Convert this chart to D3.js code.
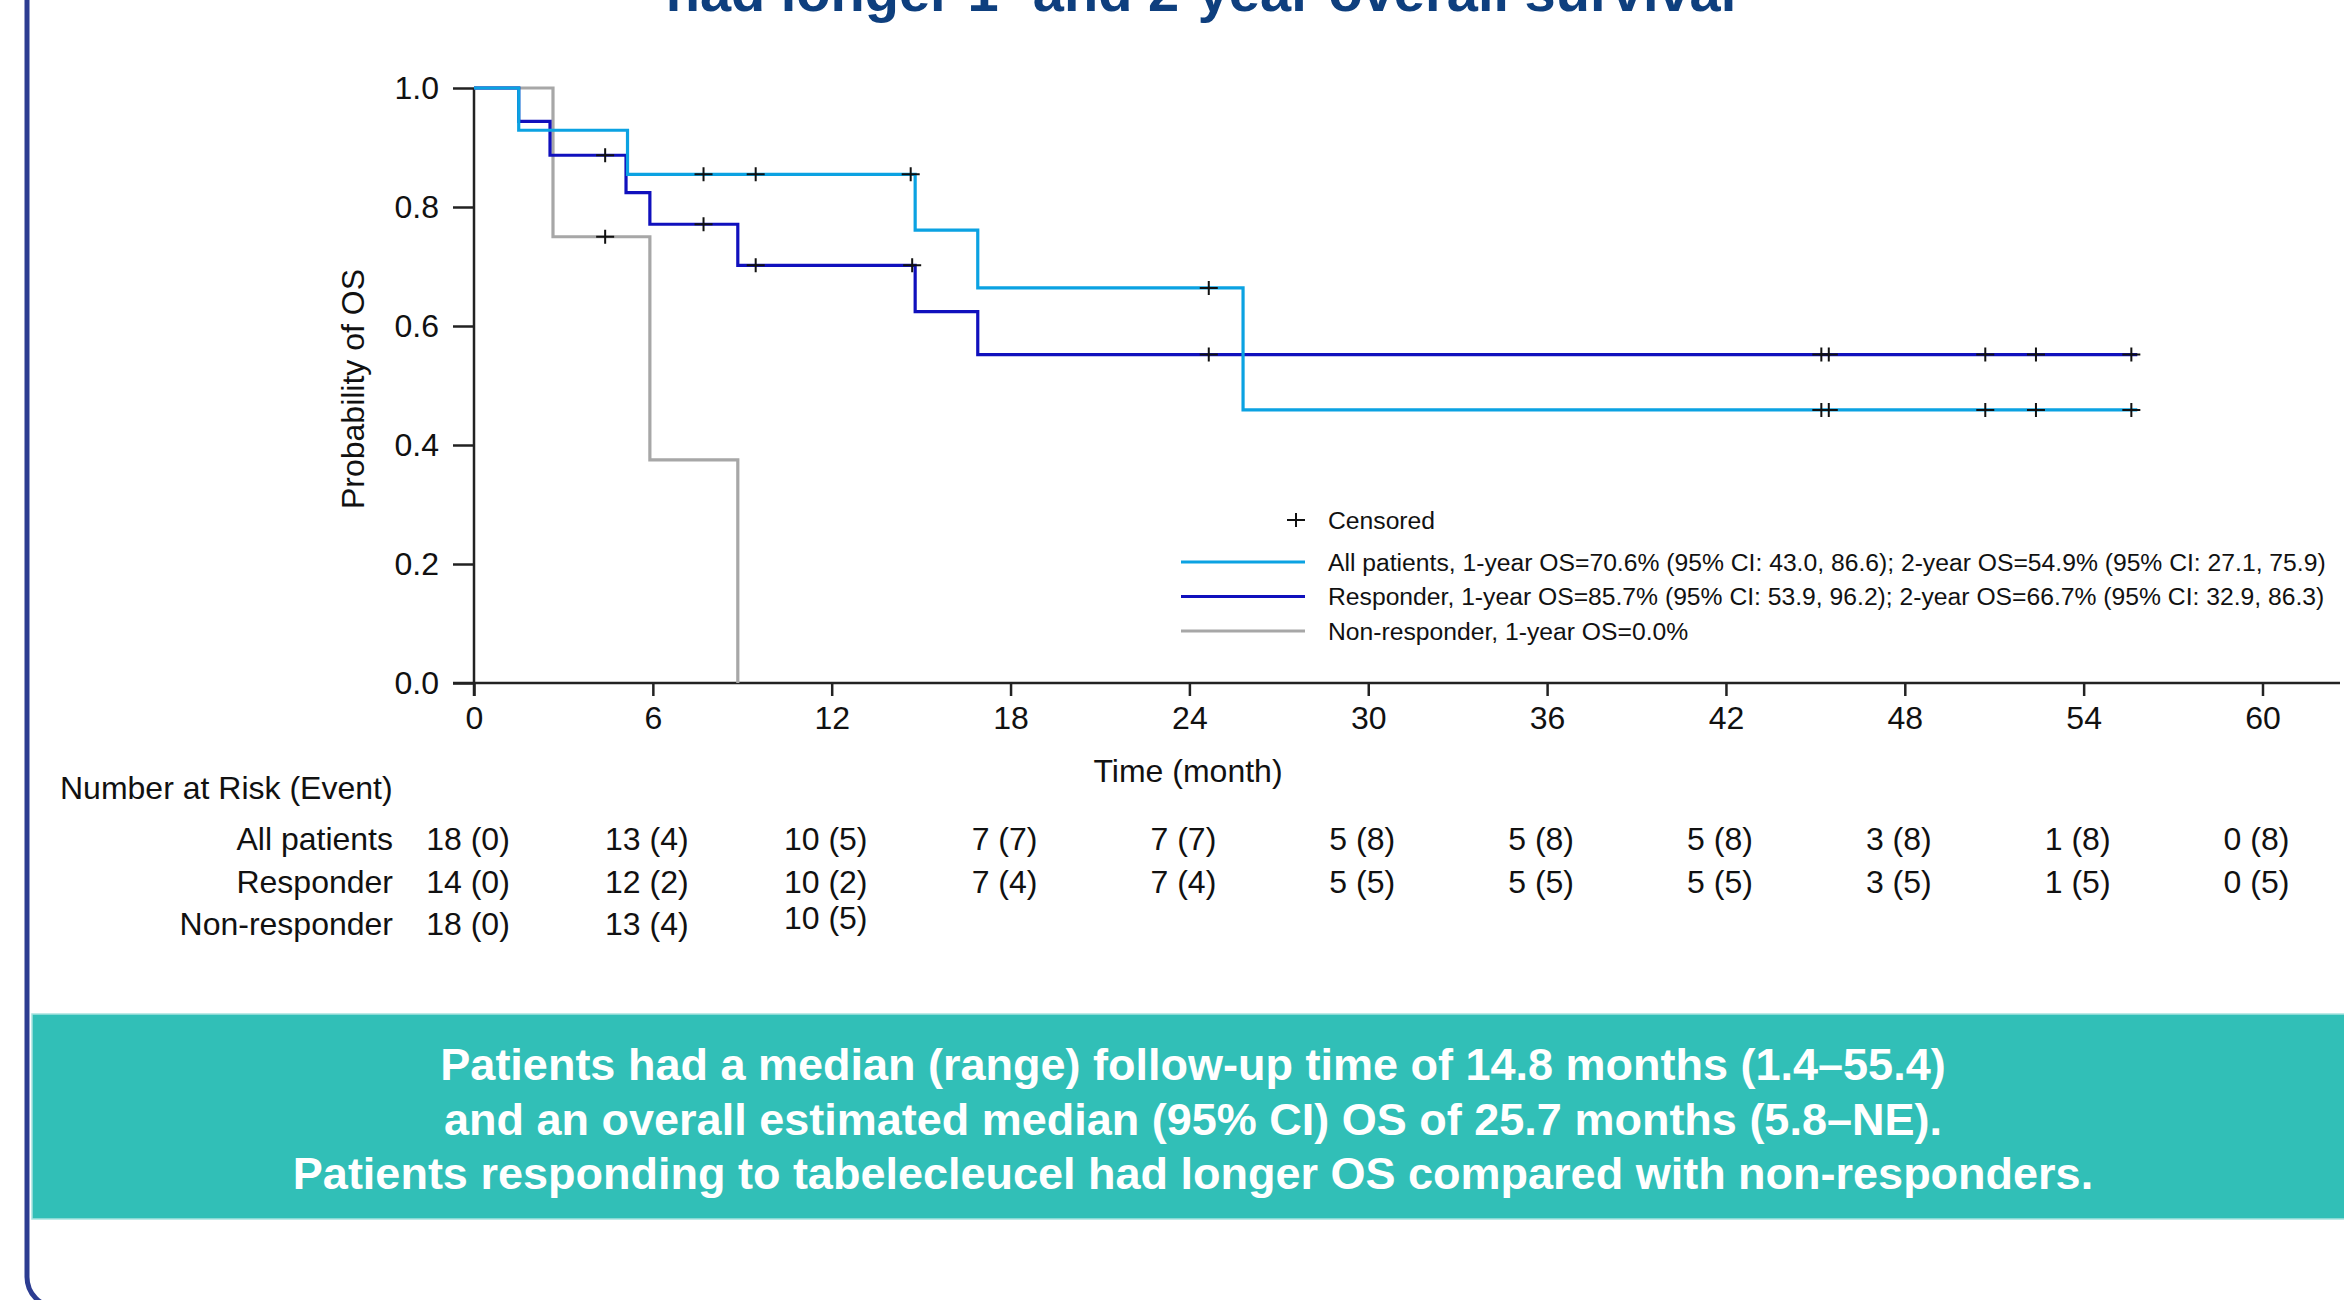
<!DOCTYPE html>
<html>
<head>
<meta charset="utf-8">
<script src="https://cdn.jsdelivr.net/npm/d3@7"></script>
<style>
  body { margin: 0; background: #fff; }
  svg { display: block; }
  text { font-family: "Liberation Sans", Arial, sans-serif; }
</style>
</head>
<body>
<svg id="chart"></svg>
<script>
const width = 2344;
const height = 1300;

// axis ticks
const timeTicks = [0, 6, 12, 18, 24, 30, 36, 42, 48, 54, 60];
const probTicks = [0, 0.2, 0.4, 0.6, 0.8, 1.0];

// Kaplan-Meier steps (time in months, survival prob)
const allTimes = [0, 1.5, 5.15, 14.8, 16.9, 25.8, 55.8];
const allSurv = [1, 0.929, 0.855, 0.761, 0.664, 0.459, 0.459];
const allCensored = [7.7, 9.45, 14.65, 24.65, 45.2, 45.45, 50.7, 52.4, 55.6];

const respTimes = [0, 1.5, 2.55, 5.1, 5.9, 8.85, 14.8, 16.9, 55.8];
const respSurv = [1, 0.944, 0.887, 0.824, 0.771, 0.702, 0.624, 0.552, 0.552];
const respCensored = [4.4, 7.7, 9.45, 14.7, 24.65, 45.2, 45.45, 50.7, 52.4, 55.6];

const nonTimes = [0, 2.65, 5.9, 8.85];
const nonSurv = [1, 0.75, 0.375, 0];
const nonCensored = [4.4];

// number at risk (event)
const riskGroups = ["All patients", "Responder", "Non-responder"];
const allRisk = ["18 (0)", "13 (4)", "10 (5)", "7 (7)", "7 (7)", "5 (8)", "5 (8)", "5 (8)", "3 (8)", "1 (8)", "0 (8)"];
const respRisk = ["14 (0)", "12 (2)", "10 (2)", "7 (4)", "7 (4)", "5 (5)", "5 (5)", "5 (5)", "3 (5)", "1 (5)", "0 (5)"];
const nonRisk = ["18 (0)", "13 (4)", "10 (5)"];

const legendLabels = [
  "All patients, 1-year OS=70.6% (95% CI: 43.0, 86.6); 2-year OS=54.9% (95% CI: 27.1, 75.9)",
  "Responder, 1-year OS=85.7% (95% CI: 53.9, 96.2); 2-year OS=66.7% (95% CI: 32.9, 86.3)",
  "Non-responder, 1-year OS=0.0%",
];

const summaryLines = [
  "Patients had a median (range) follow-up time of 14.8 months (1.4\u201355.4)",
  "and an overall estimated median (95% CI) OS of 25.7 months (5.8\u2013NE).",
  "Patients responding to tabelecleucel had longer OS compared with non-responders.",
];

const titleText = "had longer 1- and 2-year overall survival";

const colors = {
  all: "#0ba2e2",
  resp: "#1010bd",
  non: "#a7a7a7",
};

let svg = d3.select("#chart").attr("width", width).attr("height", height);

// slide frame on the left
svg.append("rect")
  .attr("x", 27)
  .attr("y", -60)
  .attr("width", 2500)
  .attr("height", 1367)
  .attr("rx", 30)
  .attr("fill", "none")
  .attr("stroke", "#2c3c91")
  .attr("stroke-width", 5);

// title, cut off by the top edge as on the slide
svg.append("text")
  .attr("x", 1201)
  .attr("y", 11)
  .attr("text-anchor", "middle")
  .attr("font-size", 56)
  .attr("font-weight", "bold")
  .attr("fill", "#0e3f7e")
  .text(titleText);

const x = d3.scaleLinear().domain([0, 60]).range([474, 2262.5]);
const y = d3.scaleLinear().domain([0, 1]).range([683, 88]);

// axes
const yTickLen = 21;
const xTickLen = 13;

svg.append("line")
  .attr("x1", x(0) - yTickLen)
  .attr("x2", 2340)
  .attr("y1", y(0))
  .attr("y2", y(0))
  .attr("stroke", "#222")
  .attr("stroke-width", 2.5);

svg.append("line")
  .attr("x1", x(0))
  .attr("x2", x(0))
  .attr("y1", y(1))
  .attr("y2", y(0) + xTickLen)
  .attr("stroke", "#222")
  .attr("stroke-width", 2.5);

let xAxis = svg.append("g")
  .attr("transform", `translate(0, ${y(0)})`)
  .call(d3.axisBottom(x).tickValues(timeTicks).tickSize(xTickLen).tickSizeOuter(0).tickPadding(10));
xAxis.select(".domain").remove();
xAxis.selectAll("line").attr("stroke", "#222").attr("stroke-width", 2.5);
xAxis.selectAll("text")
  .attr("font-size", 32)
  .attr("fill", "#111")
  .attr("font-family", "Liberation Sans, Arial, sans-serif");

let yAxis = svg.append("g")
  .attr("transform", `translate(${x(0)}, 0)`)
  .call(d3.axisLeft(y).tickValues(probTicks).tickFormat(d3.format(".1f")).tickSize(yTickLen).tickSizeOuter(0).tickPadding(14));
yAxis.select(".domain").remove();
yAxis.selectAll("line").attr("stroke", "#222").attr("stroke-width", 2.5);
yAxis.selectAll("text")
  .attr("font-size", 32)
  .attr("fill", "#111")
  .attr("font-family", "Liberation Sans, Arial, sans-serif");

svg.append("text")
  .attr("transform", `translate(364, 389) rotate(-90)`)
  .attr("text-anchor", "middle")
  .attr("font-size", 32)
  .attr("fill", "#111")
  .text("Probability of OS");

svg.append("text")
  .attr("x", 1188)
  .attr("y", 782)
  .attr("text-anchor", "middle")
  .attr("font-size", 32)
  .attr("fill", "#111")
  .text("Time (month)");

// curves
function stepValue(times, surv, t) {
  let v = surv[0];
  times.forEach((tt, i) => {
    if (tt <= t) v = surv[i];
  });
  return v;
}

const curves = [
  { key: "non", times: nonTimes, surv: nonSurv, censored: nonCensored },
  { key: "resp", times: respTimes, surv: respSurv, censored: respCensored },
  { key: "all", times: allTimes, surv: allSurv, censored: allCensored },
];

const line = d3.line()
  .x((d) => x(d[0]))
  .y((d) => y(d[1]))
  .curve(d3.curveStepAfter);

const crossW = 9;
const crossH = 7;

curves.forEach((c) => {
  const pts = c.times.map((t, i) => [t, c.surv[i]]);
  svg.append("path")
    .attr("d", line(pts))
    .attr("fill", "none")
    .attr("stroke", colors[c.key])
    .attr("stroke-width", 3.2);
});

curves.forEach((c) => {
  svg.append("g")
    .selectAll("path")
    .data(c.censored)
    .enter()
    .append("path")
    .attr("d", (t) => {
      const cx = x(t);
      const cy = y(stepValue(c.times, c.surv, t));
      return `M${cx - crossW},${cy}H${cx + crossW}M${cx},${cy - crossH}V${cy + crossH}`;
    })
    .attr("stroke", "#111")
    .attr("stroke-width", 2);
});

// legend
const legendX = 1181;
const legendTextX = 1328;
svg.append("path")
  .attr("d", `M${1296 - crossW},520H${1296 + crossW}M1296,${520 - crossH}V${520 + crossH}`)
  .attr("stroke", "#111")
  .attr("stroke-width", 2);
svg.append("text")
  .attr("x", legendTextX)
  .attr("y", 528.5)
  .attr("font-size", 24.7)
  .attr("fill", "#111")
  .text("Censored");

const legendRows = [
  { key: "all", y: 562 },
  { key: "resp", y: 596.5 },
  { key: "non", y: 631 },
];
legendRows.forEach((r, i) => {
  svg.append("line")
    .attr("x1", legendX)
    .attr("x2", 1305)
    .attr("y1", r.y)
    .attr("y2", r.y)
    .attr("stroke", colors[r.key])
    .attr("stroke-width", 3.2);
  svg.append("text")
    .attr("x", legendTextX)
    .attr("y", r.y + 8.5)
    .attr("font-size", 24.7)
    .attr("fill", "#111")
    .text(legendLabels[i]);
});

// number at risk table
svg.append("text")
  .attr("x", 60)
  .attr("y", 799)
  .attr("font-size", 32)
  .attr("fill", "#111")
  .text("Number at Risk (Event)");

const riskRows = [allRisk, respRisk, nonRisk];
const riskY = [850, 893, 935];
riskRows.forEach((row, i) => {
  svg.append("text")
    .attr("x", 393)
    .attr("y", riskY[i])
    .attr("text-anchor", "end")
    .attr("font-size", 32)
    .attr("fill", "#111")
    .text(riskGroups[i]);

  svg.append("g")
    .selectAll("text")
    .data(row)
    .enter()
    .append("text")
    .attr("x", (d, j) => x(timeTicks[j]) - 6)
    .attr("y", (d, j) => (i === 2 && j === 2 ? riskY[i] - 6 : riskY[i]))
    .attr("text-anchor", "middle")
    .attr("font-size", 32)
    .attr("fill", "#111")
    .text((d) => d);
});

// summary band
svg.append("rect")
  .attr("x", 32)
  .attr("y", 1014)
  .attr("width", width)
  .attr("height", 205)
  .attr("fill", "#31bfb7")
  .attr("stroke", "#a6e3df")
  .attr("stroke-width", 1.5);

svg.append("g")
  .selectAll("text")
  .data(summaryLines)
  .enter()
  .append("text")
  .attr("x", 1193)
  .attr("y", (d, i) => 1080 + i * 54.5)
  .attr("text-anchor", "middle")
  .attr("font-size", 45)
  .attr("font-weight", "bold")
  .attr("fill", "#fff")
  .text((d) => d);
</script>
</body>
</html>
